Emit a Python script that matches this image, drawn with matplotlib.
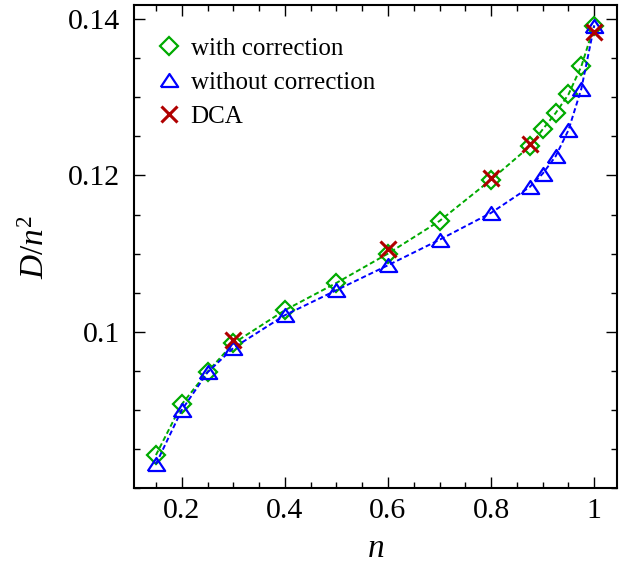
import matplotlib
matplotlib.use("Agg")
import matplotlib.pyplot as plt
from matplotlib.ticker import MultipleLocator, FuncFormatter
from matplotlib.lines import Line2D

# ---- data ----
n_corr = [0.15, 0.2, 0.25, 0.3, 0.4, 0.5, 0.6, 0.7, 0.8, 0.875, 0.9, 0.925, 0.95, 0.975, 1.0]
with_corr = [0.08425, 0.09073, 0.09489, 0.09852, 0.10277, 0.10626, 0.11001, 0.11418,
             0.11946, 0.12372, 0.12589, 0.12797, 0.13036, 0.13397, 0.13917]
without_corr = [0.0831, 0.0900, 0.09481, 0.09794, 0.10213, 0.10533, 0.10852, 0.11178,
                0.11522, 0.11853, 0.12023, 0.12244, 0.1258, 0.13109, 0.13917]
n_dca = [0.3, 0.6, 0.8, 0.875, 1.0]
dca = [0.09894, 0.11065, 0.11967, 0.12397, 0.13832]
xticks = [0.2, 0.4, 0.6, 0.8, 1.0]
yticks = [0.1, 0.12, 0.14]
labels = ['with correction', 'without correction', 'DCA']

plt.rcParams['font.family'] = ['Liberation Serif', 'DejaVu Serif']
plt.rcParams['mathtext.fontset'] = 'custom'
plt.rcParams['mathtext.rm'] = 'Liberation Serif'
plt.rcParams['mathtext.it'] = 'Liberation Serif:italic'

fig = plt.figure(figsize=(6.37, 5.65), dpi=100)
ax = fig.add_axes([0.2104, 0.1358, 0.9681 - 0.2104, 0.9912 - 0.1358])

green = '#00aa00'
blue = '#0000ff'
red = '#b00000'
tri = [(-1, -0.75), (1, -0.75), (0, 0.75), (-1, -0.75)]
dash = (0, (2.6, 1.5))

dkw = dict(marker='D', ms=9.3, mfc='none', mec=green, mew=1.6)
tkw = dict(marker=tri, ms=12.5, mfc='none', mec=blue, mew=1.6)
xkw = dict(marker='x', ms=11, mec=red, mew=2.2)

ax.plot(n_corr, with_corr, color=green, ls=dash, lw=1.4, **dkw)
ax.plot(n_corr, without_corr, color=blue, ls=dash, lw=1.4, **tkw)
ax.plot(n_dca, dca, ls='none', **xkw)

ax.set_xlim(0.1075, 1.0435)
ax.set_ylim(0.08, 0.1418)
ax.set_xticks(xticks)
ax.set_yticks(yticks)
ax.xaxis.set_minor_locator(MultipleLocator(0.05))
ax.yaxis.set_minor_locator(MultipleLocator(0.005))
fmt = FuncFormatter(lambda v, p: ('%g' % round(v, 4)))
ax.xaxis.set_major_formatter(fmt)
ax.yaxis.set_major_formatter(fmt)

ax.tick_params(which='both', direction='in', top=True, right=True, width=1.0)
ax.tick_params(which='major', length=8, labelsize=21.5)
ax.tick_params(axis='x', which='major', pad=7)
ax.tick_params(axis='y', which='major', pad=10)
ax.tick_params(which='minor', length=4.5)
for s in ax.spines.values():
    s.set_linewidth(1.5)

ax.set_xlabel(r'$n$', fontsize=24, labelpad=7)
ax.set_ylabel(r'$D/n^2$', fontsize=24, labelpad=12)

handles = [Line2D([], [], ls='none', **dkw),
           Line2D([], [], ls='none', **tkw),
           Line2D([], [], ls='none', **xkw)]
ax.legend(handles, labels, loc='upper left', frameon=False, fontsize=18,
          handlelength=1.0, handletextpad=0.35, labelspacing=0.45,
          borderaxespad=0.4, bbox_to_anchor=(0.006, 0.974))

fig.savefig('out.png', dpi=100)
